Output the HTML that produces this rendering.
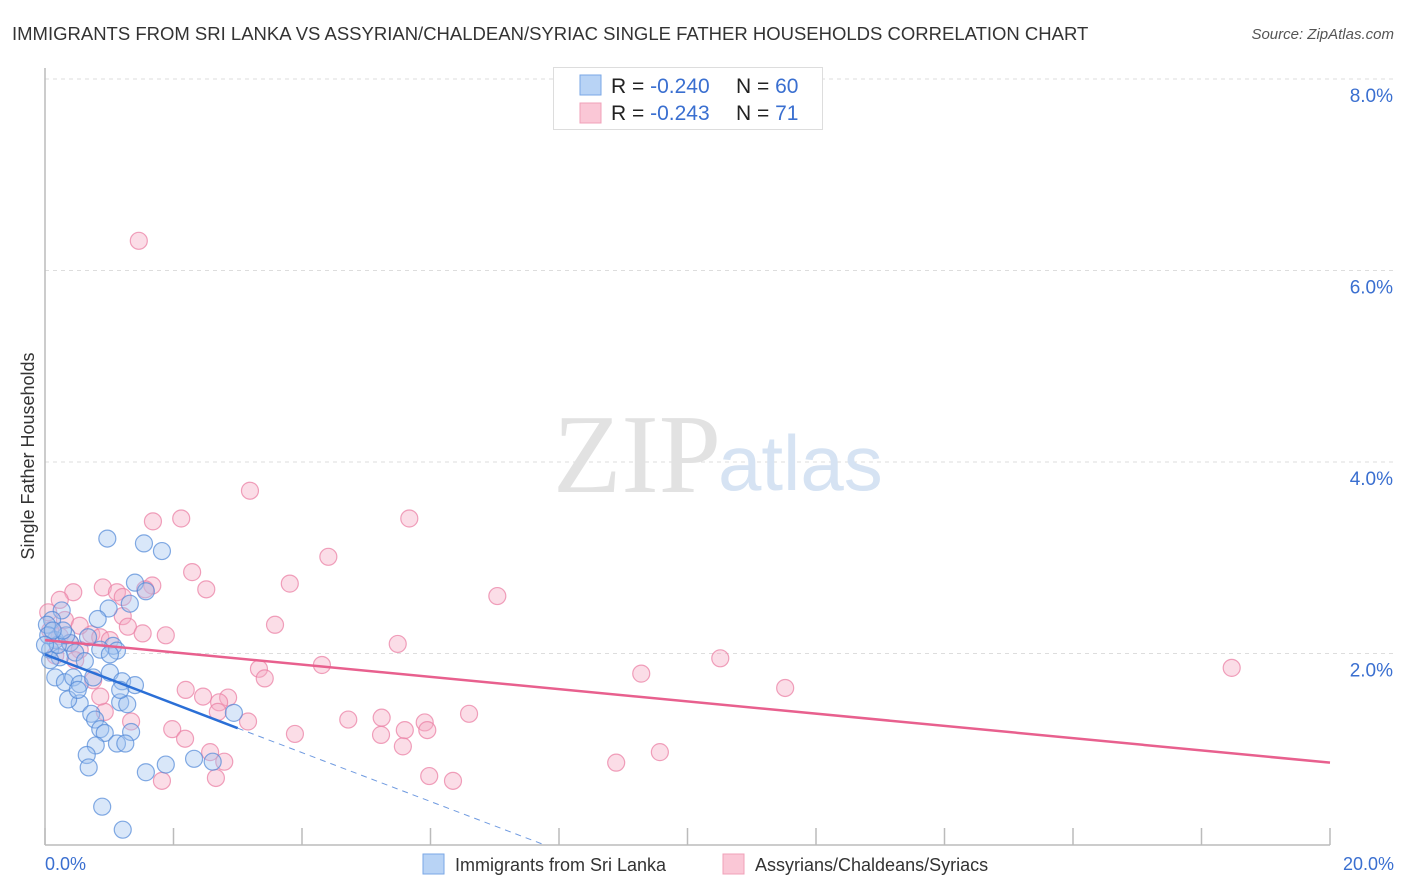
<!DOCTYPE html>
<html><head><meta charset="utf-8">
<style>
body{margin:0;background:#fff;font-family:"Liberation Sans",sans-serif;}
svg{display:block}
</style></head>
<body>
<svg id="chart" width="1406" height="892" xmlns="http://www.w3.org/2000/svg">
<text x="12" y="40" font-size="18.5" fill="#333">IMMIGRANTS FROM SRI LANKA VS ASSYRIAN/CHALDEAN/SYRIAC SINGLE FATHER HOUSEHOLDS CORRELATION CHART</text>
<text x="1394" y="39" font-size="15" fill="#555" font-style="italic" text-anchor="end">Source: ZipAtlas.com</text>
<g id="grid"></g>
<text x="553" y="492" font-size="112" fill="#e2e2e2" font-family="Liberation Serif,serif">ZIP</text>
<text x="718" y="490" font-size="78" fill="#d6e3f3">atlas</text>
<text transform="translate(34,456) rotate(-90)" font-size="18" fill="#333" text-anchor="middle">Single Father Households</text>
<g id="pts"></g>
<g id="trends"></g>
<g>
<rect x="553.5" y="67.5" width="269" height="62" fill="#fff" stroke="#ddd"/>
<rect x="580" y="75" width="21" height="20" fill="#b8d3f5" stroke="#7aa7e6"/>
<rect x="580" y="103" width="21" height="20" fill="#fac7d6" stroke="#f0a0b8"/>
<text x="611" y="93" font-size="21" fill="#222">R = <tspan fill="#3a6fd0">-0.240</tspan></text>
<text x="736" y="93" font-size="21" fill="#222">N = <tspan fill="#3a6fd0">60</tspan></text>
<text x="611" y="120" font-size="21" fill="#222">R =  <tspan fill="#3a6fd0">-0.243</tspan></text>
<text x="736" y="120" font-size="21" fill="#222">N =  <tspan fill="#3a6fd0">71</tspan></text>
</g>
<text x="45" y="870" font-size="18" fill="#3a6fd0">0.0%</text>
<text x="1394" y="870" font-size="18" fill="#3a6fd0" text-anchor="end">20.0%</text>
<g>
<rect x="423" y="854" width="21" height="20" fill="#b8d3f5" stroke="#7aa7e6"/>
<text x="455" y="871" font-size="18" fill="#333">Immigrants from Sri Lanka</text>
<rect x="723" y="854" width="21" height="20" fill="#fac7d6" stroke="#f0a0b8"/>
<text x="755" y="871" font-size="18" fill="#333">Assyrians/Chaldeans/Syriacs</text>
</g>
</svg>
<script>
const yTicks=[2,4,6,8];
const yTickLabels=["2.0%","4.0%","6.0%","8.0%"];
const xTicks=[0,2,4,6,8,10,12,14,16,18,20];
const blueX=[0.97,1.54,1.82,1.4,1.57,0.99,1.32,0.82,0.26,0.11,0.03,0.16,0.39,0.67,1.06,1.12,0.08,0.23,0.47,0.62,1.01,0.16,0.31,0.44,0.54,0.75,1.2,1.4,0.54,1.17,1.28,0.72,0.78,0.86,0.93,1.34,0.79,1.12,1.25,0.65,0.68,1.57,1.88,2.32,2.61,2.94,0.89,1.21,0.08,0.2,0.05,0.33,0.86,0.28,1.17,0.36,0.51,1.01,0.12,0.0];
const blueY=[3.2,3.15,3.07,2.74,2.65,2.47,2.52,2.36,2.45,2.35,2.3,2.14,2.11,2.17,2.08,2.03,2.04,1.96,2.01,1.92,1.8,1.75,1.7,1.75,1.68,1.75,1.71,1.67,1.48,1.49,1.47,1.37,1.31,1.21,1.17,1.18,1.04,1.06,1.06,0.94,0.81,0.76,0.84,0.9,0.87,1.38,0.4,0.16,1.93,2.09,2.19,2.19,2.04,2.24,1.62,1.52,1.62,1.99,2.24,2.09];
const pinkX=[1.46,3.19,1.68,2.12,5.67,4.41,2.29,2.51,3.81,7.04,0.44,0.9,1.12,1.21,1.67,1.56,3.58,5.49,1.21,1.29,1.52,1.88,0.72,0.86,1.01,0.23,0.39,0.54,0.08,0.31,0.16,0.47,3.33,3.42,4.31,9.28,10.51,11.52,18.47,2.19,2.46,2.85,2.71,3.16,2.69,4.72,5.24,5.91,6.6,1.34,0.93,1.98,2.18,3.89,5.23,5.6,5.95,5.57,2.57,2.79,1.82,2.66,5.98,6.35,8.89,9.57,0.86,0.54,0.23,0.75,0.05];
const pinkY=[6.31,3.7,3.38,3.41,3.41,3.01,2.85,2.67,2.73,2.6,2.64,2.69,2.64,2.59,2.71,2.67,2.3,2.1,2.39,2.28,2.21,2.19,2.2,2.17,2.14,2.18,2.11,2.04,2.24,2.35,1.98,1.93,1.84,1.74,1.88,1.79,1.95,1.64,1.85,1.62,1.55,1.54,1.49,1.29,1.39,1.31,1.33,1.28,1.37,1.29,1.39,1.21,1.11,1.16,1.15,1.2,1.2,1.03,0.97,0.87,0.67,0.7,0.72,0.67,0.86,0.97,1.55,2.29,2.56,1.72,2.43];
const blueTrend=[[0,1.99],[3.0,1.22]];
const blueDash=[[3.0,1.22],[7.78,0]];
const pinkTrend=[[0,2.14],[20,0.86]];
const ns="http://www.w3.org/2000/svg";
const X=v=>45+v*64.25;
const Y=v=>845-v*95.75;
function mk(tag,attrs,parent){const e=document.createElementNS(ns,tag);for(const k in attrs)e.setAttribute(k,attrs[k]);parent.appendChild(e);return e;}
const grid=document.getElementById('grid');
yTicks.forEach((t,i)=>{
 const l=mk('line',{x1:45,x2:1394,y1:Y(t),y2:Y(t),stroke:'#ddd','stroke-dasharray':'4,4'},grid);
 
 
 const tx=mk('text',{x:1393,y:Y(t)+23,'font-size':19,fill:'#3a6fd0','text-anchor':'end'},grid);
 tx.textContent=yTickLabels[i];
 
 
});
const ax=mk('line',{x1:45,x2:45,y1:68,y2:845,stroke:'#bbb','stroke-width':1.5},grid);


const bx=mk('line',{x1:45,x2:1330,y1:845,y2:845,stroke:'#bbb','stroke-width':1.5},grid);


xTicks.forEach(t=>{
 const l=mk('line',{x1:X(t),x2:X(t),y1:828,y2:845,stroke:'#bbb','stroke-width':1.5},grid);
 
 
});
const pts=document.getElementById('pts');
pinkX.forEach((x,i)=>{
 const c=mk('circle',{cx:X(x),cy:Y(pinkY[i]),r:8.5,fill:'rgba(246,170,195,0.4)',stroke:'rgba(235,130,165,0.75)','stroke-width':1.2},pts);
 
 
});
blueX.forEach((x,i)=>{
 const c=mk('circle',{cx:X(x),cy:Y(blueY[i]),r:8.5,fill:'rgba(160,195,240,0.4)',stroke:'rgba(80,135,215,0.7)','stroke-width':1.2},pts);
 
 
});
const tr=document.getElementById('trends');
let l1=mk('line',{x1:X(pinkTrend[0][0]),y1:Y(pinkTrend[0][1]),x2:X(pinkTrend[1][0]),y2:Y(pinkTrend[1][1]),stroke:'#e8608e','stroke-width':2.5},tr);


let l2=mk('line',{x1:X(blueTrend[0][0]),y1:Y(blueTrend[0][1]),x2:X(blueTrend[1][0]),y2:Y(blueTrend[1][1]),stroke:'#2b6fd6','stroke-width':2.5},tr);


let l3=mk('line',{x1:X(blueDash[0][0]),y1:Y(blueDash[0][1]),x2:X(blueDash[1][0]),y2:Y(blueDash[1][1]),stroke:'#6f9ae0','stroke-width':1,'stroke-dasharray':'6,5'},tr);


</script>
</body></html>
